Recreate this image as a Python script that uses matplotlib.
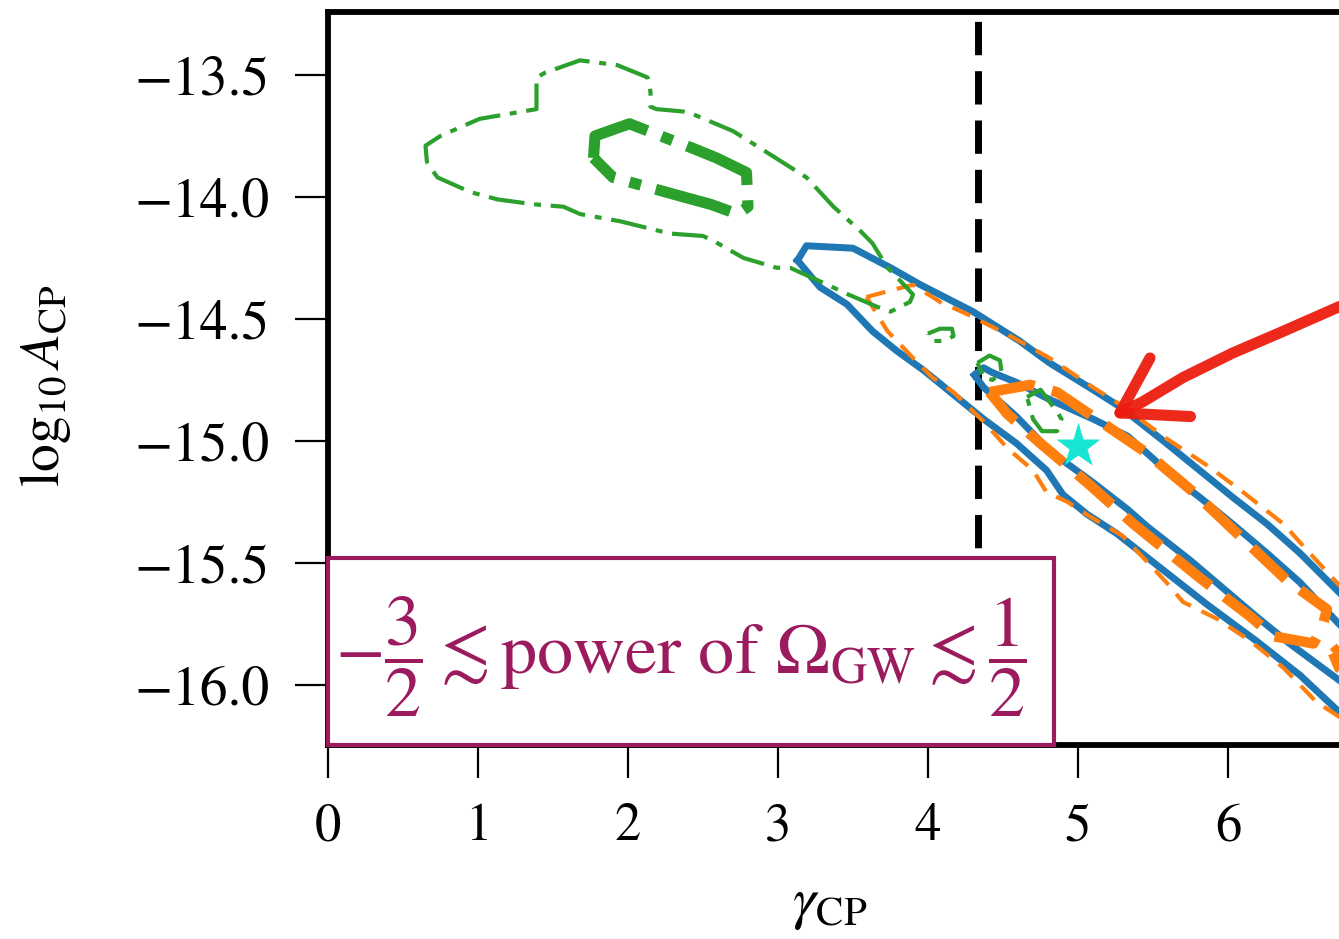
import matplotlib
matplotlib.use("Agg")
import matplotlib.pyplot as plt
from matplotlib.patches import Rectangle

plt.rcParams["font.family"] = ["STIXGeneral", "DejaVu Sans"]
plt.rcParams["mathtext.fontset"] = "stix"
plt.rcParams["lines.scale_dashes"] = False

# ---- 2D posterior contours in (gamma_CP, log10 A_CP) ----
# blue: solid, two credible levels
blue_outer_x = [3.13, 3.19, 3.50, 3.75, 3.95, 4.30, 4.61, 4.81, 5.10, 5.28, 5.59, 5.81, 6.03, 6.26, 6.48, 6.74, 7.08,
                7.08, 6.74, 6.48, 6.19, 5.86, 5.57, 5.26, 5.06, 4.90, 4.79, 4.59, 4.37, 4.13, 3.97, 3.79, 3.63, 3.46, 3.28, 3.13]
blue_outer_y = [-14.26, -14.20, -14.21, -14.29, -14.36, -14.47, -14.59, -14.68, -14.79, -14.86, -15.01, -15.12, -15.23, -15.34, -15.46, -15.62, -15.82,
                -16.29, -16.11, -15.96, -15.82, -15.67, -15.53, -15.38, -15.30, -15.22, -15.12, -15.01, -14.91, -14.79, -14.71, -14.63, -14.55, -14.44, -14.37, -14.26]
blue_inner_x = [4.31, 4.37, 4.43, 4.59, 4.81, 5.10, 5.33, 5.46, 5.66, 5.81, 6.03, 6.26, 6.48, 6.74, 7.08,
                7.08, 6.74, 6.41, 6.19, 5.75, 5.46, 5.33, 5.10, 4.81, 4.59, 4.37, 4.31]
blue_inner_y = [-14.73, -14.70, -14.72, -14.76, -14.83, -14.91, -14.98, -15.05, -15.16, -15.23, -15.34, -15.46, -15.58, -15.75, -15.95,
                -16.14, -15.98, -15.83, -15.72, -15.49, -15.35, -15.28, -15.17, -15.04, -14.90, -14.78, -14.73]

# orange: dashed, two credible levels
orange_outer_x = [3.59, 3.77, 3.90, 4.08, 4.26, 4.55, 4.81, 5.10, 5.28, 5.59, 5.86, 6.08, 6.37, 6.53, 6.74, 7.08,
                  7.08, 6.74, 6.59, 6.37, 6.15, 5.93, 5.70, 5.59, 5.30, 5.08, 4.93, 4.79, 4.70, 4.53, 4.37, 4.17, 4.03, 3.90, 3.73, 3.65, 3.59]
orange_outer_y = [-14.41, -14.38, -14.36, -14.43, -14.48, -14.57, -14.66, -14.78, -14.85, -14.99, -15.10, -15.20, -15.34, -15.45, -15.59, -15.80,
                  -16.31, -16.13, -16.07, -15.93, -15.82, -15.73, -15.66, -15.58, -15.39, -15.31, -15.25, -15.21, -15.12, -15.03, -14.92, -14.80, -14.74, -14.66, -14.55, -14.47, -14.41]
orange_inner_x = [4.41, 4.68, 4.86, 5.10, 5.46, 5.77, 6.08, 6.39, 6.66, 6.63, 6.57, 6.30, 6.15, 5.81, 5.37, 5.06, 4.75, 4.53, 4.41]
orange_inner_y = [-14.80, -14.77, -14.80, -14.90, -15.05, -15.21, -15.39, -15.57, -15.69, -15.76, -15.83, -15.80, -15.72, -15.56, -15.34, -15.17, -15.01, -14.89, -14.80]
orange_inner2_x = [6.70, 6.76, 7.08, 7.08, 6.74, 6.70]
orange_inner2_y = [-15.87, -15.84, -15.95, -16.05, -15.93, -15.87]

# green: dash-dot, two credible levels
green_outer_x = [0.66, 0.65, 0.75, 1.01, 1.39, 1.39, 1.45, 1.68, 1.93, 2.13, 2.15, 2.15, 2.19, 2.37, 2.43, 2.70, 2.83, 3.19, 3.37, 3.55, 3.63,
                 3.73, 3.81, 3.90, 3.88, 3.75, 3.66, 3.47, 3.33, 3.08, 2.99, 2.77, 2.57, 2.50, 2.28, 1.95, 1.68, 1.57, 1.37, 1.13, 0.95, 0.73, 0.66]
green_outer_y = [-13.86, -13.79, -13.75, -13.68, -13.64, -13.51, -13.49, -13.44, -13.46, -13.51, -13.57, -13.63, -13.64, -13.65, -13.66, -13.73,
                 -13.78, -13.92, -14.04, -14.14, -14.19, -14.29, -14.34, -14.40, -14.43, -14.47, -14.45, -14.40, -14.36, -14.29, -14.29, -14.25,
                 -14.18, -14.16, -14.15, -14.10, -14.07, -14.04, -14.03, -14.01, -13.98, -13.92, -13.86]
green_isl1_x = [4.00, 4.08, 4.16, 4.17, 4.11, 4.03, 4.00]
green_isl1_y = [-14.56, -14.54, -14.54, -14.57, -14.59, -14.59, -14.56]
green_isl2_x = [4.33, 4.41, 4.48, 4.49, 4.43, 4.37, 4.33]
green_isl2_y = [-14.68, -14.65, -14.67, -14.72, -14.75, -14.74, -14.68]
green_isl3_x = [4.66, 4.75, 4.86, 4.89, 4.86, 4.76, 4.70, 4.66]
green_isl3_y = [-14.82, -14.79, -14.88, -14.91, -14.96, -14.96, -14.91, -14.82]
green_inner_x = [1.77, 1.78, 2.01, 2.26, 2.43, 2.59, 2.79, 2.80, 2.73, 2.55, 2.37, 1.90, 1.77]
green_inner_y = [-13.84, -13.75, -13.70, -13.76, -13.80, -13.84, -13.90, -14.04, -14.07, -14.03, -14.00, -13.92, -13.84]

# reference values
gamma_smbhb = 13 / 3
star_x, star_y = 5.0, -15.02

# hand-drawn pointer
arrow_shaft_x = [7.00, 6.74, 6.37, 6.03, 5.70, 5.43, 5.28]
arrow_shaft_y = [-14.39, -14.45, -14.55, -14.64, -14.74, -14.84, -14.885]
arrow_head_x = [5.48, 5.28, 5.75]
arrow_head_y = [-14.66, -14.885, -14.90]

x_ticks = [0, 1, 2, 3, 4, 5, 6]
y_ticks = [-16.0, -15.5, -15.0, -14.5, -14.0, -13.5]

BLUE, ORANGE, GREEN = "#1f77b4", "#ff7f0e", "#2ca02c"
PURPLE = "#9b1b5e"

fig = plt.figure(figsize=(13.39, 9.39), dpi=100)
ax = fig.add_axes([328 / 1339, 1 - 745 / 939, 1050 / 1339, 733 / 939])
ax.set_xlim(0, 7)
ax.set_ylim(-16.246, -13.242)

# blue
for xs, ys in [(blue_outer_x, blue_outer_y), (blue_inner_x, blue_inner_y)]:
    ax.plot(xs, ys, color=BLUE, lw=5, solid_joinstyle="round", zorder=2)

# orange
ax.plot(orange_outer_x, orange_outer_y, color=ORANGE, lw=3,
        linestyle=(0, (14, 8.5)), zorder=3)
for xs, ys in [(orange_inner_x, orange_inner_y), (orange_inner2_x, orange_inner2_y)]:
    ax.plot(xs, ys, color=ORANGE, lw=7.5, linestyle=(0, (33, 13)), zorder=3)

# green
thin_dashdot = (0, (26, 7, 5, 7))
for xs, ys in [(green_outer_x, green_outer_y), (green_isl1_x, green_isl1_y),
               (green_isl2_x, green_isl2_y), (green_isl3_x, green_isl3_y)]:
    ax.plot(xs, ys, color=GREEN, lw=3, linestyle=thin_dashdot, zorder=4)
ax.plot(green_inner_x, green_inner_y, color=GREEN, lw=8,
        linestyle=(0, (56, 11, 8.5, 11)), zorder=4)

# gamma = 13/3 reference line
ax.axvline(gamma_smbhb, color="black", lw=5, linestyle=(0, (24, 11.5)), zorder=1.5)

# injected point
ax.plot([star_x], [star_y], marker="*", ms=34, color="#18e6d2", mec="none", zorder=6)

# red pointer
for xs, ys in [(arrow_shaft_x, arrow_shaft_y), (arrow_head_x, arrow_head_y)]:
    ax.plot(xs, ys, color="#ec1d0e", lw=8, solid_capstyle="round",
            solid_joinstyle="round", zorder=7, alpha=0.95)

# axes styling
for side in ["top", "left", "bottom", "right"]:
    ax.spines[side].set_linewidth(4.2)
ax.set_xticks(x_ticks)
ax.set_yticks(y_ticks)
ax.set_xticklabels([str(t) for t in x_ticks])
ax.set_yticklabels([f"\u2212{abs(t):.1f}" for t in y_ticks])
ax.tick_params(direction="out", length=24, width=1.6, labelsize=38)
ax.tick_params(axis="y", labelsize=40, pad=18)
ax.tick_params(axis="x", pad=18)

ax.set_xlabel(r"$\gamma_{\rm CP}$", fontsize=42)
ax.xaxis.set_label_coords(0.478, -0.183)
ax.set_ylabel(r"$\log_{10} A_{\rm CP}$", fontsize=40)
ax.yaxis.set_label_coords(-0.243, 0.49)

# annotation box
box = Rectangle((0, 0), 0.6914, 0.2551, transform=ax.transAxes, facecolor="white",
                edgecolor=PURPLE, lw=3, zorder=10, clip_on=False)
ax.add_patch(box)
ax.text(0.336, 0.12,
        r"$-\dfrac{3}{2} \lesssim \mathrm{power\ of\ }\Omega_{\rm GW} \lesssim \dfrac{1}{2}$",
        transform=ax.transAxes, ha="center", va="center", fontsize=52,
        color=PURPLE, zorder=11)

fig.savefig("out.png", dpi=100)
